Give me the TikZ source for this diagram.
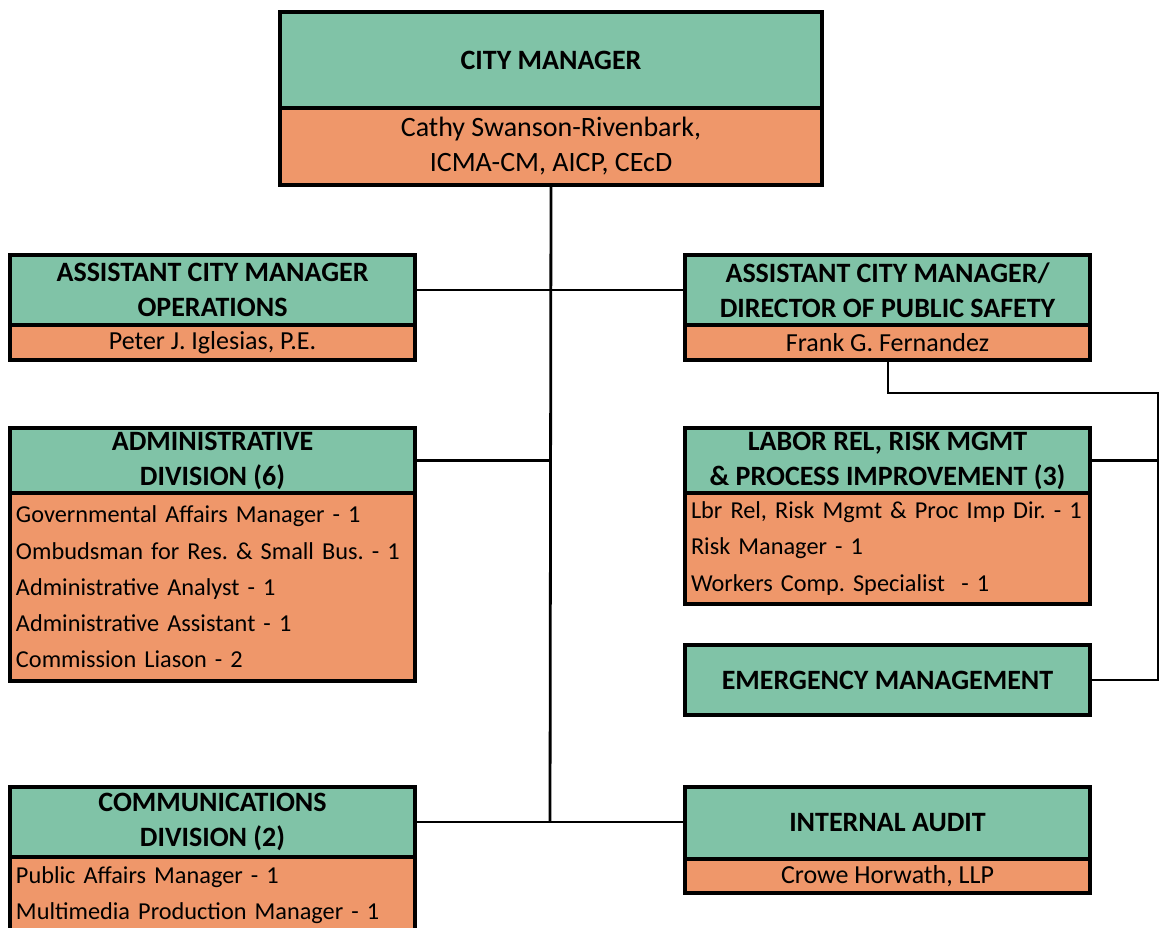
\documentclass[tikz,border=0pt]{standalone}
\usepackage{fontspec}
\setmainfont{Carlito}
\frenchspacing
\definecolor{hdrgreen}{HTML}{80C3A7}
\definecolor{bodyorange}{HTML}{EF976A}
% one unbroken line of a position list
\newcommand\listrow[1]{\mbox{#1}}
\begin{document}
\begin{tikzpicture}[x=1pt,y=-1pt,
  box/.style={draw=black, line width=4.5pt, anchor=north west, inner sep=0pt, outer sep=0pt},
  hdr/.style={box, fill=hdrgreen, align=center, font=\fontsize{28}{35}\selectfont\bfseries},
  namebody/.style={box, fill=bodyorange, align=center, font=\fontsize{26}{35}\selectfont},
  topname/.style={namebody, font=\fontsize{28}{35}\selectfont},
  listbody/.style={box, fill=bodyorange, align=left, font=\fontsize{24.3}{36.3}\selectfont},
  link/.style={line width=2.8pt, draw=black}]
\useasboundingbox (0,0) rectangle (1161,928);
\clip (0,0) rectangle (1161,928);

% City manager
\node[hdr, minimum width=542pt, minimum height=96pt] (cmh) at (280,12) {CITY MANAGER};
\node[topname, minimum width=542pt, minimum height=77pt] (cmb) at (280,108)
  {Cathy Swanson-Rivenbark,\\ICMA-CM, AICP, CEcD};

% Assistant city manager, operations
\node[hdr, minimum width=405pt, minimum height=70pt] (opsh) at (10,255)
  {ASSISTANT CITY MANAGER\\OPERATIONS};
\node[namebody, minimum width=405pt, minimum height=35pt] (opsb) at (10,325)
  {Peter J. Iglesias, P.E.};

% Assistant city manager, public safety
\node[hdr, minimum width=405pt, minimum height=70pt] (dpsh) at (685,255)
  {ASSISTANT CITY MANAGER/\\DIRECTOR OF PUBLIC SAFETY};
\node[namebody, minimum width=405pt, minimum height=35pt] (dpsb) at (685,325)
  {Frank G. Fernandez};

% Administrative division
\node[hdr, minimum width=405pt, minimum height=65pt] (admh) at (10,428)
  {ADMINISTRATIVE\\DIVISION (6)};
\node[listbody, minimum width=405pt, minimum height=188pt, text width=393pt] (admb) at (10,493)
  {\listrow{Governmental Affairs Manager - 1}\\
   \listrow{Ombudsman for Res. \& Small Bus. - 1}\\
   \listrow{Administrative Analyst - 1}\\
   \listrow{Administrative Assistant - 1}\\
   \listrow{Commission Liason - 2}};

% Labor relations, risk management and process improvement
\node[hdr, minimum width=405pt, minimum height=65pt] (labh) at (685,428)
  {LABOR REL, RISK MGMT\\\& PROCESS IMPROVEMENT (3)};
\node[listbody, minimum width=405pt, minimum height=111pt, text width=393pt] (labb) at (685,493)
  {\listrow{Lbr Rel, Risk Mgmt \& Proc Imp Dir. - 1}\\
   \listrow{Risk Manager - 1}\\
   \listrow{Workers Comp. Specialist\ \ - 1}};

% Emergency management
\node[hdr, minimum width=405pt, minimum height=70pt] (emh) at (685,645)
  {EMERGENCY MANAGEMENT};

% Communications division
\node[hdr, minimum width=405pt, minimum height=70pt] (comh) at (10,787)
  {COMMUNICATIONS\\DIVISION (2)};
\node[listbody, minimum width=405pt, minimum height=76pt, text width=393pt] (comb) at (10,857)
  {\listrow{Public Affairs Manager - 1}\\
   \listrow{Multimedia Production Manager - 1}};

% Internal audit
\node[hdr, minimum width=405pt, minimum height=72pt] (audh) at (685,787)
  {INTERNAL AUDIT};
\node[namebody, minimum width=405pt, minimum height=34pt] (audb) at (685,859)
  {Crowe Horwath, LLP};

% Connectors
\coordinate (trunkend) at (550,822);
\coordinate (ftap) at (888,393);
\coordinate (rail) at (1158,393);

\draw[link] (cmb.south) -- (trunkend);
\draw[link] (opsh.east) -- (dpsh.west);
\draw[link] (admh.east) -- (admh.east -| trunkend);
\draw[link] (comh.east) -- (comh.east -| audh.west);
\draw[link] (ftap |- dpsb.south) -- (ftap) -- (rail) |- (emh.east);
\draw[link] (labh.east) -- (labh.east -| rail);
\end{tikzpicture}
\end{document}
